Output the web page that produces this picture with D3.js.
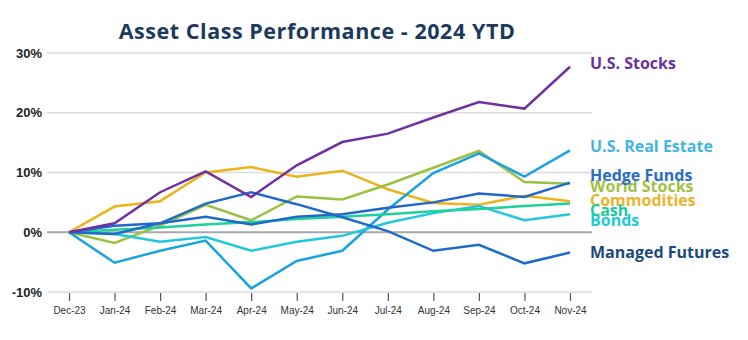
<!DOCTYPE html>
<html>
<head>
<meta charset="utf-8">
<script src="https://cdn.jsdelivr.net/npm/d3@7"></script>
<style>
  body { margin: 0; background: #fff; }
  svg { display: block; }
</style>
</head>
<body>
<div id="chart"></div>
<script>
// months along the x axis
var months = ["Dec-23", "Jan-24", "Feb-24", "Mar-24", "Apr-24", "May-24", "Jun-24",
              "Jul-24", "Aug-24", "Sep-24", "Oct-24", "Nov-24"];

// cumulative return, %
var usStocks       = [0, 1.5, 6.7, 10.2, 5.9, 11.2, 15.1, 16.5, 19.2, 21.8, 20.7, 27.7];
var realEstate     = [0, -5.1, -3.1, -1.4, -9.4, -4.8, -3.1, 3.8, 9.9, 13.2, 9.3, 13.7];
var hedgeFunds     = [0, 1.1, 1.5, 2.6, 1.3, 2.6, 3.0, 4.1, 5.0, 6.5, 5.9, 8.3];
var worldStocks    = [0, -1.8, 1.1, 4.6, 2.0, 6.0, 5.5, 8.0, 10.8, 13.6, 8.4, 8.1];
var commodities    = [0, 4.3, 5.2, 10.0, 10.9, 9.3, 10.3, 7.2, 4.9, 4.6, 6.1, 5.2];
var cash           = [0, 0.4, 0.8, 1.3, 1.7, 2.2, 2.6, 3.0, 3.5, 3.9, 4.4, 4.8];
var bonds          = [0, -0.3, -1.6, -0.8, -3.1, -1.6, -0.6, 1.6, 3.2, 4.4, 2.0, 3.0];
var managedFutures = [0, -0.3, 1.5, 4.8, 6.7, 4.7, 2.5, 0.2, -3.1, -2.1, -5.2, -3.4];

var yTicks = [-10, 0, 10, 20, 30];

// series names, in drawing order, and where their label sits (in % units)
var names    = ["Commodities", "World Stocks", "U.S. Real Estate", "Bonds", "Cash",
                "Hedge Funds", "Managed Futures", "U.S. Stocks"];
var labelAt  = [5.4, 7.7, 14.3, 1.9, 3.7, 9.5, -3.3, 28.3];

var seriesData = [commodities, worldStocks, realEstate, bonds, cash,
                  hedgeFunds, managedFutures, usStocks];

var lineColors  = ["#ebb41c", "#9cc142", "#1aa3e0", "#22c8d9", "#1fd19c",
                   "#2268c8", "#1f6cc6", "#7030a0"];
var labelColors = ["#eab42a", "#a2c145", "#3fb4e5", "#22c9d9", "#20c99a",
                   "#2a6cc4", "#1b4a7e", "#6b2fa0"];

var width = 748, height = 340;

var svg = d3.select("#chart").append("svg")
  .attr("width", width)
  .attr("height", height);

var x = d3.scalePoint()
  .domain(months)
  .range([69, 570]);

var y = d3.scaleLinear()
  .domain([-10, 30])
  .range([292, 53]);

// title
svg.append("text")
  .attr("x", 317)
  .attr("y", 39)
  .attr("text-anchor", "middle")
  .style("font-family", "'Open Sans', Lato, sans-serif")
  .style("font-weight", 700)
  .style("font-size", "21.5px")
  .style("letter-spacing", "0.55px")
  .style("fill", "#1b3a5e")
  .text("Asset Class Performance - 2024 YTD");

// gridlines
svg.append("g")
  .selectAll("line")
  .data(yTicks)
  .enter()
  .append("line")
  .attr("x1", 47)
  .attr("x2", 592)
  .attr("y1", function(d){ return y(d); })
  .attr("y2", function(d){ return y(d); })
  .attr("stroke", function(d){ return d == 0 ? "#a8a8a8" : "#dcdcdc"; })
  .attr("stroke-width", function(d){ return d == 0 ? 2 : 1.5; });

// y labels
svg.append("g")
  .selectAll("text")
  .data(yTicks)
  .enter()
  .append("text")
  .attr("x", 42)
  .attr("y", function(d){ return y(d); })
  .attr("dy", "0.35em")
  .attr("text-anchor", "end")
  .style("font-family", "'Liberation Sans', Arial, sans-serif")
  .style("font-weight", 700)
  .style("font-size", "13px")
  .style("fill", "#222")
  .text(function(d){ return d + "%"; });

// x axis (ticks + labels, no domain line)
var xAxis = d3.axisBottom(x)
  .tickSize(8)
  .tickPadding(6);

var gx = svg.append("g")
  .attr("transform", "translate(0,293)")
  .call(xAxis);

gx.select(".domain").remove();
gx.selectAll(".tick line").attr("stroke", "#555").attr("stroke-width", 1.2);
gx.selectAll(".tick text")
  .style("font-family", "'Liberation Sans', Arial, sans-serif")
  .style("font-size", "10px")
  .style("fill", "#333");

// lines
var line = d3.line()
  .x(function(d, i){ return x(months[i]); })
  .y(function(d){ return y(d); });

svg.append("g")
  .selectAll("path")
  .data(seriesData)
  .enter()
  .append("path")
  .attr("d", line)
  .attr("fill", "none")
  .attr("stroke", function(d, i){ return lineColors[i]; })
  .attr("stroke-width", 2.5)
  .attr("stroke-linejoin", "miter");

// end labels
svg.append("g")
  .selectAll("text")
  .data(names)
  .enter()
  .append("text")
  .attr("x", 590)
  .attr("y", function(d, i){ return y(labelAt[i]); })
  .attr("dy", "0.35em")
  .style("font-family", "'Open Sans', Lato, sans-serif")
  .style("font-weight", 700)
  .style("font-size", "16px")
  .style("fill", function(d, i){ return labelColors[i]; })
  .text(function(d){ return d; });
</script>
</body>
</html>
